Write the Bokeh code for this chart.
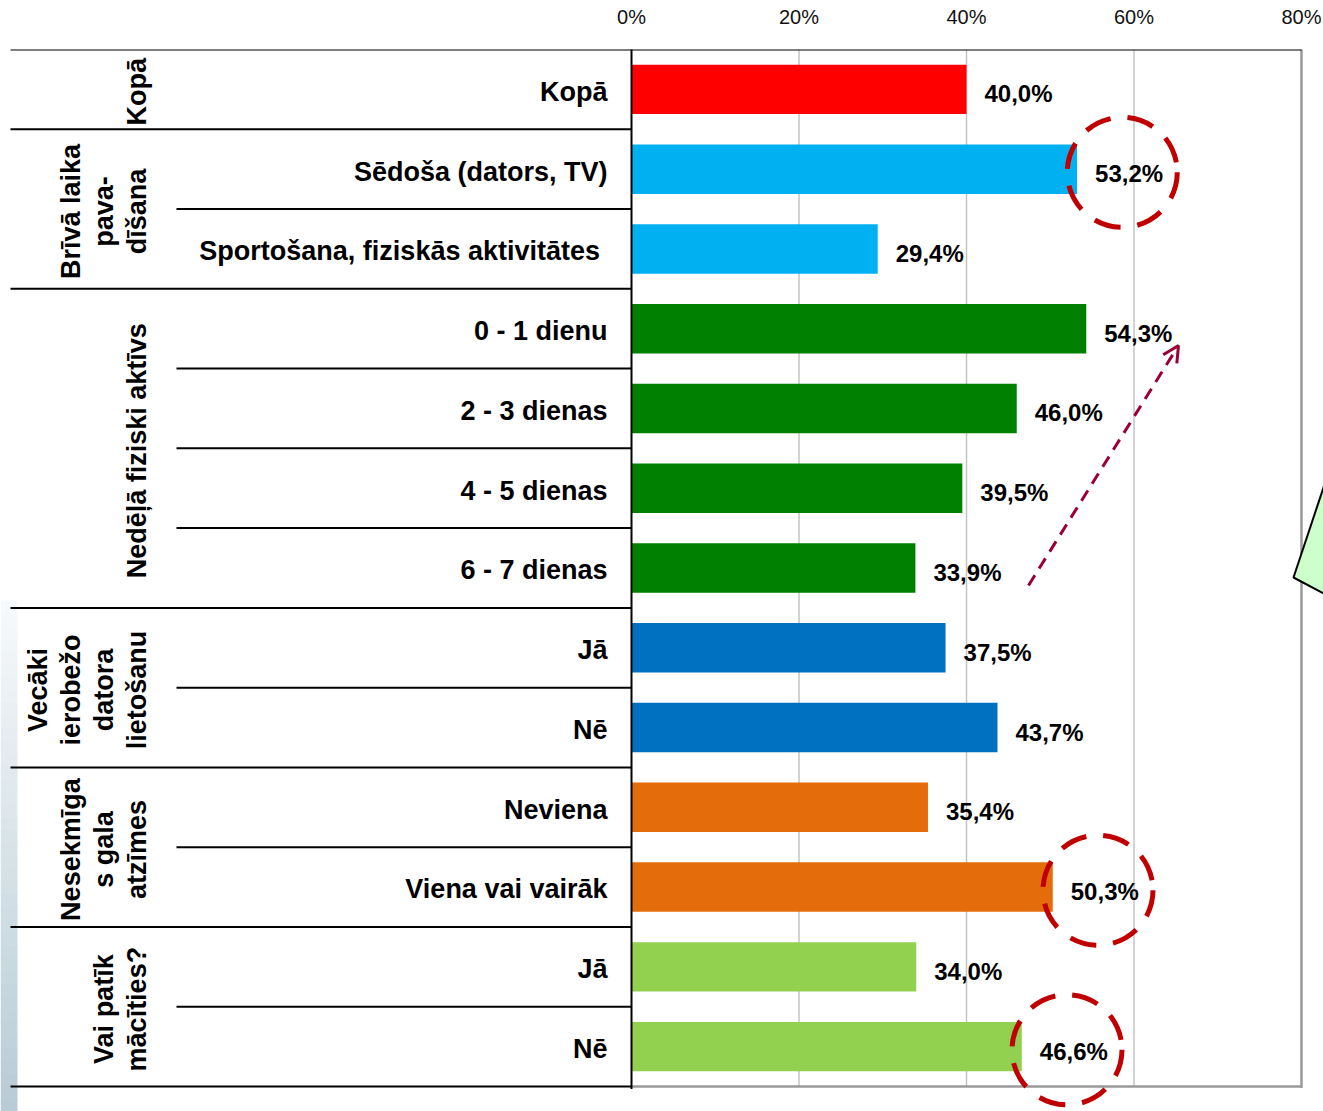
import math
from bokeh.plotting import figure
from bokeh.models import Range1d, FixedTicker, LinearAxis, Arrow, OpenHead
from bokeh.core.properties import value
from bokeh.embed import file_html
from bokeh.resources import INLINE

# ---------------- data ----------------
categories = ["Kopā", "Sēdoša (dators, TV)", "Sportošana,  fiziskās aktivitātes",
              "0 - 1 dienu", "2 - 3 dienas", "4 - 5 dienas", "6 - 7 dienas",
              "Jā", "Nē", "Neviena", "Viena vai vairāk", "Jā", "Nē"]
values = [40.0, 53.2, 29.4, 54.3, 46.0, 39.5, 33.9, 37.5, 43.7, 35.4, 50.3, 34.0, 46.6]
groups = ["Kopā", "Brīvā laika\npava-\ndīšana", "Nedēļā fiziski aktīvs",
          "Vecāki\nierobežo\ndatora\nlietošanu", "Nesekmīga\ns gala\natzīmes",
          "Vai patīk\nmācīties?"]
group_sizes = [1, 2, 4, 2, 2, 2]
group_colors = ["#ff0000", "#00b0f0", "#008000", "#0070c0", "#e46c0a", "#92d050"]
circled = [1, 10, 12]
tick_values = [0, 20, 40, 60, 80]
tick_labels = ["0%", "20%", "40%", "60%", "80%"]

# ---------------- layout helpers ----------------
W, H = 1323, 1111
PX0, PXU = 631.0, 8.375      # page x of 0 %, pixels per 1 %
PY0, ROWH = 49.0, 79.77      # page y of top row boundary, row height
def dx(px):
    return (px - PX0) / PXU
def dy(py):
    return (py - PY0) / ROWH - 0.5

n = len(categories)
idx = list(range(n))
colors = []
for g, s in enumerate(group_sizes):
    colors += [group_colors[g]] * s

FONT = "Liberation Sans"

p = figure(width=W, height=H, output_backend="svg", toolbar_location=None,
           x_range=Range1d(dx(0), dx(W)), y_range=Range1d(dy(H), dy(PY0)),
           min_border_left=0, min_border_right=0, min_border_bottom=0, min_border_top=int(PY0),
           x_axis_location=None, y_axis_location=None, outline_line_color=None,
           background_fill_color="white", border_fill_color="white")
p.xgrid.visible = False
p.ygrid.visible = False

ax = LinearAxis(ticker=FixedTicker(ticks=tick_values),
                major_label_overrides={t: l for t, l in zip(tick_values, tick_labels)},
                axis_line_color=None, major_tick_line_color=None, minor_tick_line_color=None,
                major_tick_out=0, major_tick_in=0, major_label_standoff=22,
                major_label_text_font=FONT, major_label_text_font_size="20px",
                major_label_text_color="#111111")
p.add_layout(ax, "above")

# left gradient strip
steps = 40
y_a, y_b = 600.0, float(H)
c0, c1 = (246, 249, 251), (184, 204, 214)
for i in range(steps):
    t = i / (steps - 1)
    c = tuple(int(round(c0[k] + (c1[k] - c0[k]) * t)) for k in range(3))
    ya = y_a + (y_b - y_a) * i / steps
    yb = y_a + (y_b - y_a) * (i + 1) / steps + 1
    p.quad(left=dx(0), right=dx(17), top=dy(ya), bottom=dy(yb),
           fill_color="#%02x%02x%02x" % c, line_color=None)

# gridlines
for t in tick_values[1:-1]:
    p.segment(x0=t, x1=t, y0=-0.5, y1=n - 0.5, line_color="#c4c4c4", line_width=1.5)
# right border and bottom line of plot area
p.segment(x0=80, x1=80, y0=dy(44), y1=n - 0.5 + 0.02, line_color="#9a9a9a", line_width=2.5)
p.segment(x0=0, x1=80, y0=n - 0.5, y1=n - 0.5, line_color="#9a9a9a", line_width=2.5)
# top line
p.segment(x0=dx(10), x1=80, y0=-0.5, y1=-0.5, line_color="black", line_width=2)

# separators
bounds = [0]
for s in group_sizes:
    bounds.append(bounds[-1] + s)
for k in range(1, n + 1):
    left = dx(10) if k in bounds else dx(176)
    p.segment(x0=left, x1=0, y0=k - 0.5, y1=k - 0.5, line_color="black", line_width=2)

# bars
p.hbar(y=idx, left=0, right=values, height=0.62, fill_color=colors, line_color=None)

# axis line at 0
p.segment(x0=0, x1=0, y0=dy(44), y1=n - 0.5 + 0.03, line_color="black", line_width=2)

# value labels
p.text(x=[v + 2.15 for v in values], y=[i + 0.056 for i in idx],
       text=[("%.1f" % v).replace(".", ",") + "%" for v in values],
       text_font=value(FONT), text_font_style="bold", text_font_size="24px",
       text_align="left", text_baseline="middle", text_color="black")

# category labels
p.text(x=[dx(607)] * n, y=[i + 0.03 for i in idx], text=categories,
       text_font=value(FONT), text_font_style="bold", text_font_size="27px",
       text_align="right", text_baseline="middle", text_color="black")

# group labels
gy = [(bounds[g] + bounds[g + 1] - 1) / 2 + 0.03 for g in range(len(groups))]
p.text(x=[dx(151)] * len(groups), y=gy, text=groups, angle=math.pi / 2,
       text_font=value(FONT), text_font_style="bold", text_font_size="27px",
       text_align="center", text_baseline="bottom", text_line_height=1.1,
       text_color="black")

# highlight circles
p.circle(x=[values[i] + 5.4 for i in circled], y=[i + 0.04 for i in circled],
         radius=55, radius_units="screen", fill_color=None,
         line_color="#c00000", line_width=5, line_dash="27 17")

# dashed arrow
p.add_layout(Arrow(end=OpenHead(size=16, line_color="#990033", line_width=3),
                   x_start=dx(1028), y_start=dy(585), x_end=dx(1178), y_end=dy(345),
                   line_color="#990033", line_width=3, line_dash="12 8"))

# green callout shape at the right edge
gx = [1293, 1330, 1400, 1400, 1340]
gyy = [577, 466, 466, 640, 602]
p.patch(x=[dx(v) for v in gx], y=[dy(v) for v in gyy], fill_color="#ccffcc",
        line_color="black", line_width=2)

open("out.html", "w").write(file_html(p, INLINE))
